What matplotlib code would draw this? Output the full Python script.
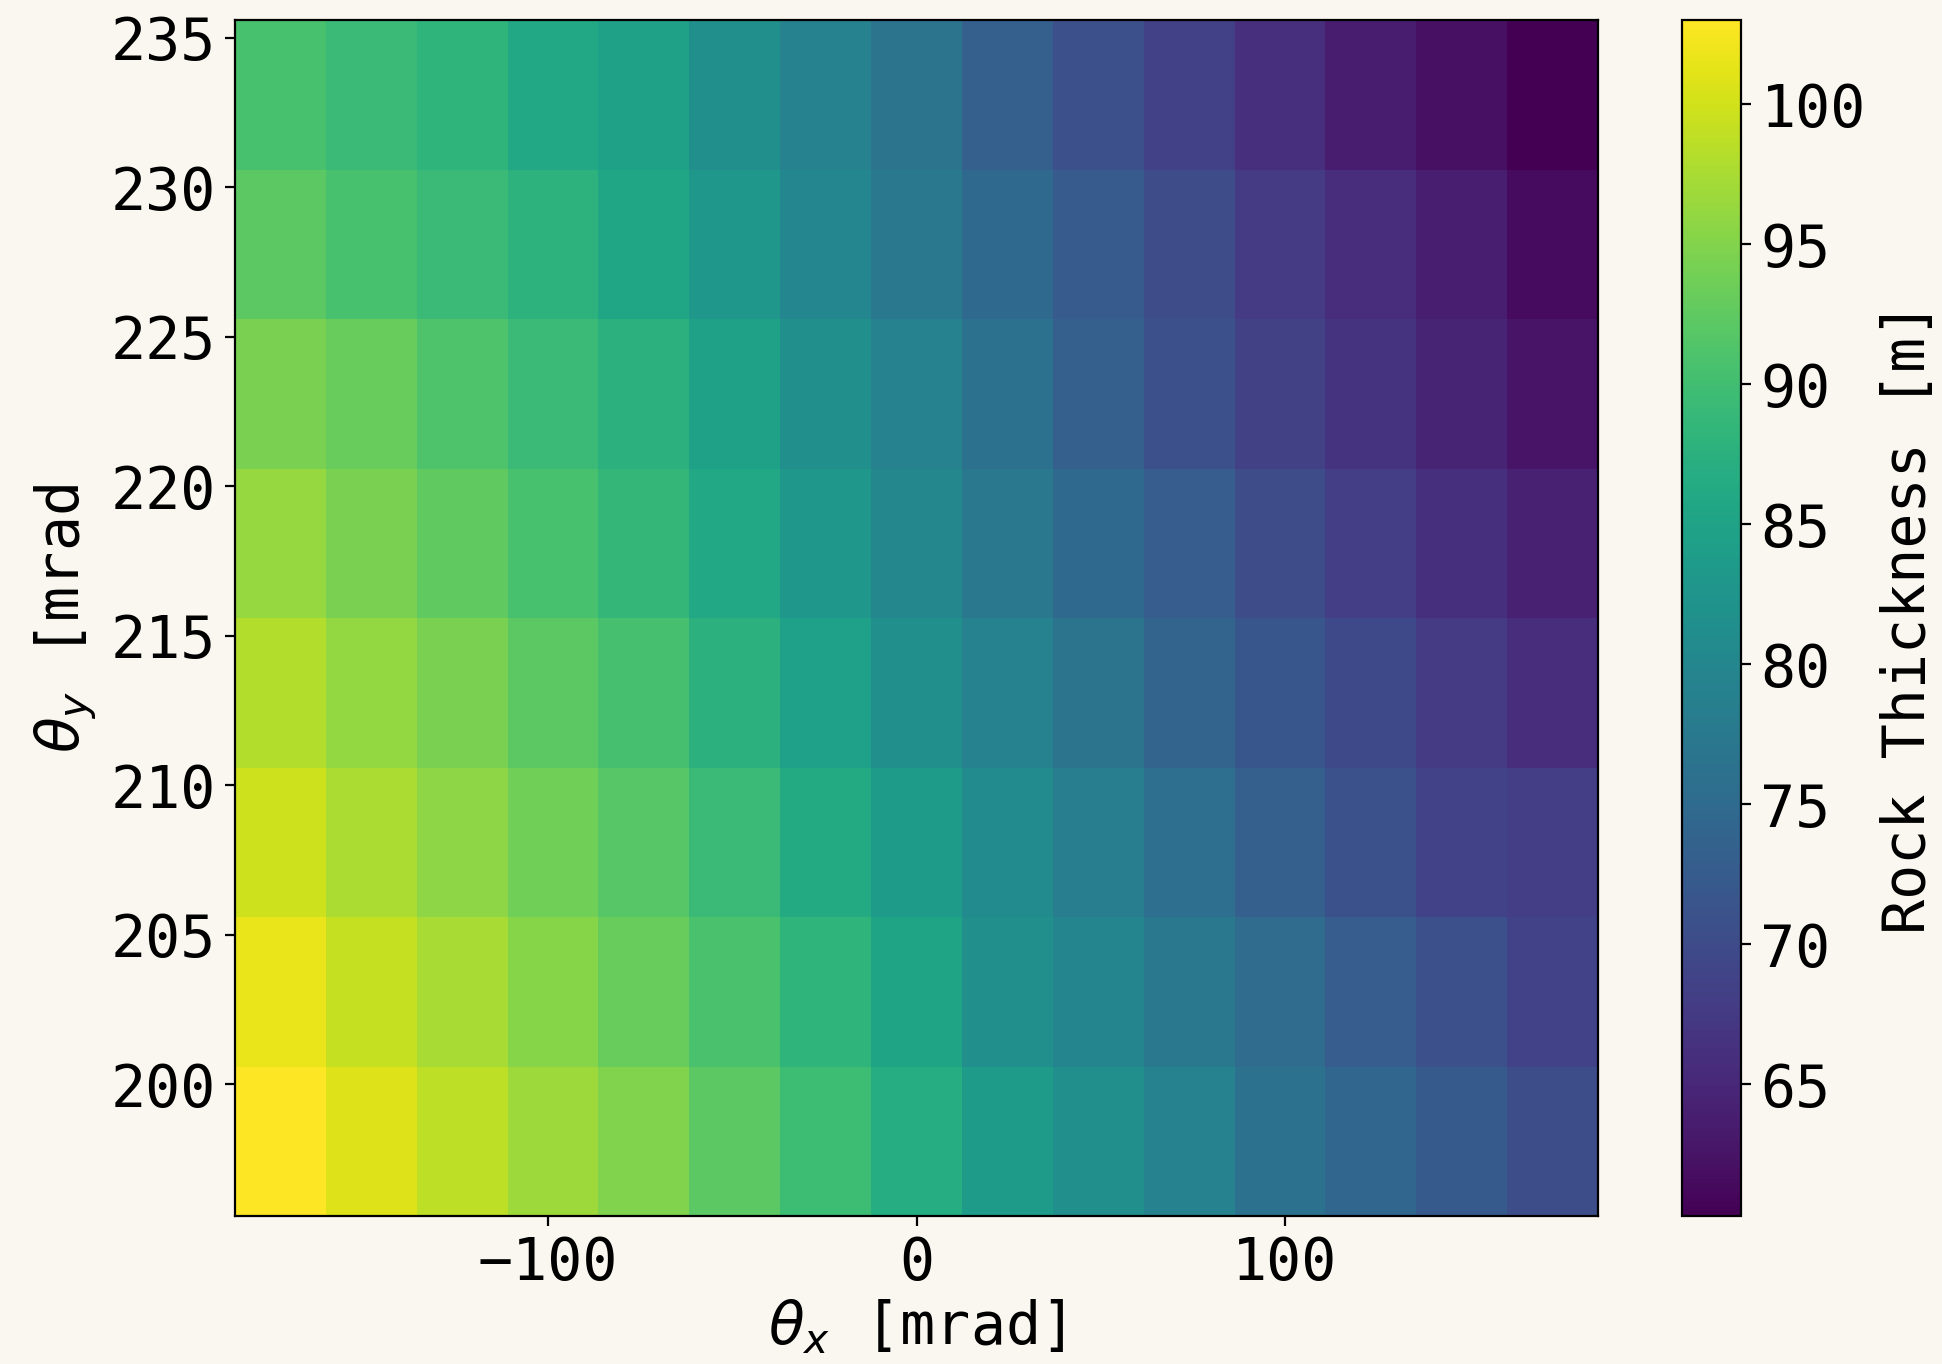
import numpy as np
import matplotlib
matplotlib.use("Agg")
import matplotlib.pyplot as plt

# bin edges (mrad)
theta_x_edges = np.linspace(-185, 185, 16)
theta_y_edges = np.arange(195.6, 236.0, 5.0)

# Rock thickness [m]; rows from bottom (theta_y ~198) to top (theta_y ~233)
row_198 = [103.0, 100.8, 98.7, 96.8, 94.9, 92.3, 89.5, 86.7, 83.8, 81.6, 79.1, 76.3, 74.4, 72.2, 70.3]
row_203 = [101.5, 99.3, 97.4, 95.3, 93.1, 90.8, 88.0, 85.2, 81.6, 79.7, 77.4, 75.2, 72.7, 70.7, 68.8]
row_208 = [99.8, 97.6, 95.7, 93.8, 91.7, 89.3, 86.3, 83.8, 80.8, 78.2, 75.6, 73.1, 70.9, 68.8, 68.0]
row_213 = [98.1, 96.1, 94.4, 92.3, 90.4, 87.6, 84.4, 81.6, 79.1, 76.5, 73.9, 71.8, 69.7, 67.7, 65.8]
row_218 = [96.3, 94.4, 92.5, 90.6, 88.5, 85.9, 82.9, 80.1, 77.4, 74.8, 72.7, 70.1, 68.0, 66.3, 64.3]
row_223 = [94.4, 93.1, 91.0, 89.3, 87.6, 84.6, 81.6, 79.1, 76.3, 73.1, 70.7, 68.6, 66.5, 64.5, 62.6]
row_228 = [92.3, 90.6, 89.3, 87.8, 85.5, 82.9, 79.9, 77.4, 74.8, 72.4, 70.1, 67.7, 65.8, 63.9, 61.6]
row_233 = [90.6, 89.3, 88.0, 85.9, 84.6, 81.6, 79.1, 76.5, 73.1, 70.7, 68.4, 66.0, 63.7, 62.0, 60.3]

thickness = np.array([row_198, row_203, row_208, row_213,
                      row_218, row_223, row_228, row_233])

bg = "#faf7f0"
plt.rcParams["font.family"] = ["DejaVu Sans Mono"]
plt.rcParams["font.size"] = 21
plt.rcParams["mathtext.fontset"] = "dejavusans"

fig = plt.figure(figsize=(9.71, 6.82), dpi=200, facecolor=bg)
ax = fig.add_axes([0.121, 0.1085, 0.7019, 0.8768])
cax = fig.add_axes([0.8661, 0.1085, 0.0304, 0.8768])

mesh = ax.pcolormesh(theta_x_edges, theta_y_edges, thickness,
                     cmap="viridis", shading="flat")
ax.set_xlim(theta_x_edges[0], theta_x_edges[-1])
ax.set_ylim(theta_y_edges[0], theta_y_edges[-1])
ax.set_xticks([-100, 0, 100])
ax.set_yticks([200, 205, 210, 215, 220, 225, 230, 235])
ax.set_xlabel(r"$\theta_x$ [mrad]", labelpad=2)
ax.set_ylabel(r"$\theta_y$ [mrad", labelpad=4)

cb = fig.colorbar(mesh, cax=cax)
cb.set_label("Rock Thickness [m]", labelpad=5)
cb.set_ticks([65, 70, 75, 80, 85, 90, 95, 100])

fig.savefig("out.png", dpi=200, facecolor=bg)
